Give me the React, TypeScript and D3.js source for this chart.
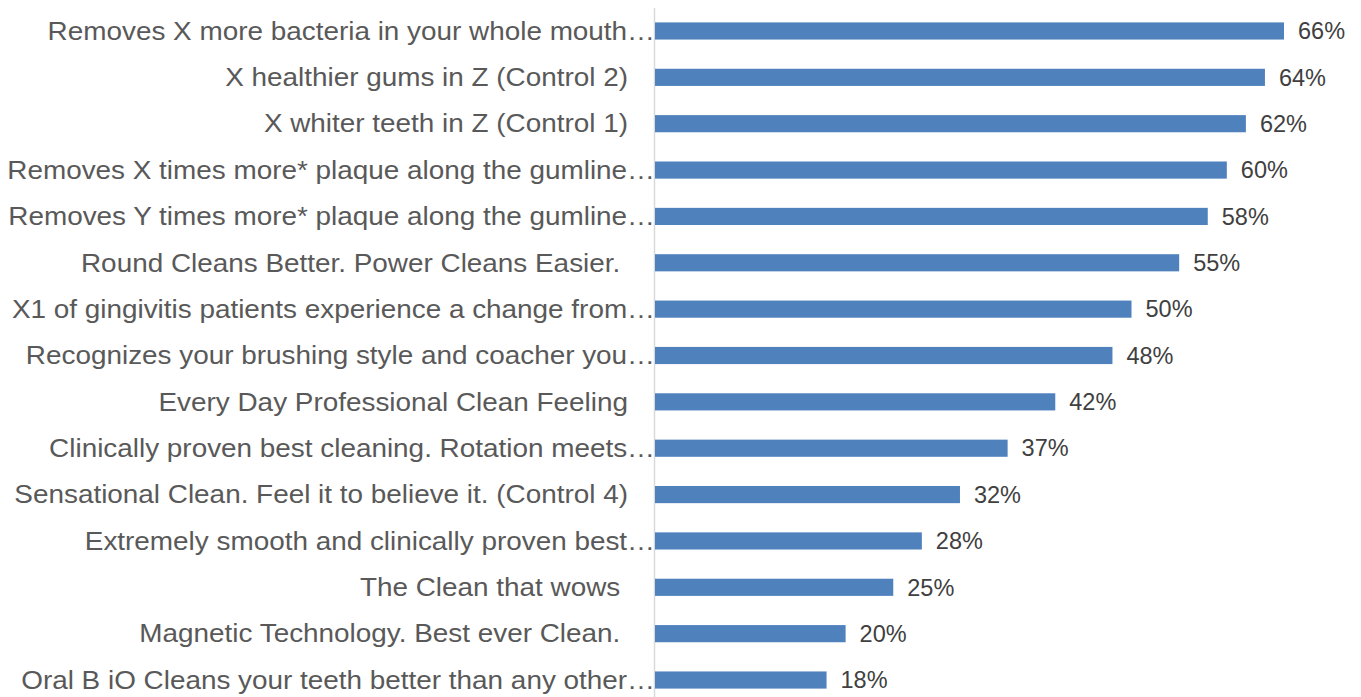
import React from "react";
import * as d3 from "d3";

const categories: string[] = [
  "Removes X more bacteria in your whole mouth…",
  "X healthier gums in Z (Control 2)",
  "X whiter teeth in Z (Control 1)",
  "Removes X times more* plaque along the gumline…",
  "Removes Y times more* plaque along the gumline…",
  "Round Cleans Better. Power Cleans Easier. ",
  "X1 of gingivitis patients experience a change from…",
  "Recognizes your brushing style and coacher you…",
  "Every Day Professional Clean Feeling",
  "Clinically proven best cleaning. Rotation meets…",
  "Sensational Clean. Feel it to believe it. (Control 4)",
  "Extremely smooth and clinically proven best…",
  "The Clean that wows ",
  "Magnetic Technology. Best ever Clean. ",
  "Oral B iO Cleans your teeth better than any other…",
];

const values: number[] = [66, 64, 62, 60, 58, 55, 50, 48, 42, 37, 32, 28, 25, 20, 18];

const W = 1361;
const H = 697;

export default function App() {
  const x0 = 655;
  const x = d3.scaleLinear().domain([0, 66]).range([x0, 1284]);
  const y = d3
    .scaleBand<string>()
    .domain(categories)
    .range([7.8, 703.2])
    .paddingInner(0.63)
    .paddingOuter(0.315);
  const font = "'Liberation Sans', Arial, sans-serif";
  const sx = 1.116;
  return (
    <svg
      width={W}
      height={H}
      style={{ position: "absolute", left: 0, top: 0, background: "#fff" }}
    >
      <line x1={x0 - 0.5} x2={x0 - 0.5} y1={8} y2={H} stroke="#d9d9d9" strokeWidth={1.5} />
      {categories.map((c, i) => {
        const yy = (y(c) as number) + y.bandwidth() / 2;
        const truncated = c.endsWith("…");
        const ax = truncated ? x0 : 628;
        return (
          <g key={i}>
            <rect
              x={x(0)}
              y={y(c)}
              width={x(values[i]) - x(0)}
              height={y.bandwidth()}
              fill="#4f81bd"
            />
            <text
              transform={`translate(${ax},${yy}) scale(${sx},1)`}
              dy="0.35em"
              textAnchor="end"
              fontFamily={font}
              fontSize={25}
              fill="#595959"
              style={{ whiteSpace: "pre" }}
            >
              {c}
            </text>
            <text
              x={x(values[i]) + 14}
              y={yy}
              dy="0.35em"
              fontFamily={font}
              fontSize={23.5}
              fill="#404040"
            >
              {d3.format(".0%")(values[i] / 100)}
            </text>
          </g>
        );
      })}
    </svg>
  );
}
